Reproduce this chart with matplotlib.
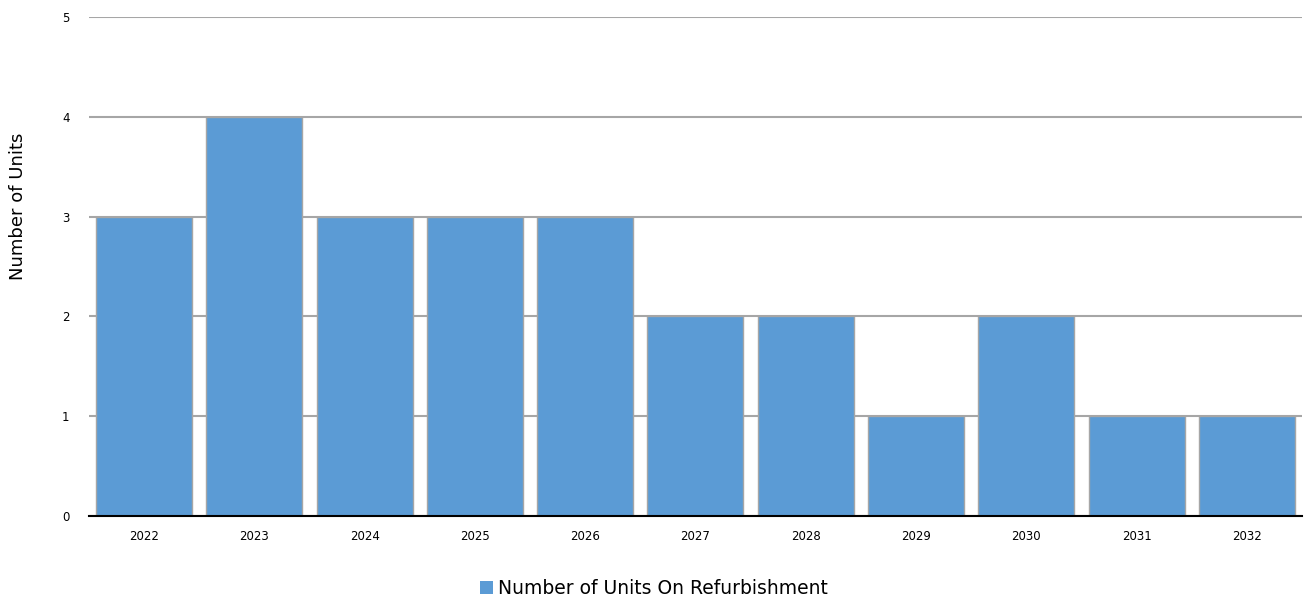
import matplotlib
matplotlib.use("Agg")
import matplotlib.pyplot as plt
from matplotlib.patches import Patch

years = ["2022", "2023", "2024", "2025", "2026", "2027", "2028", "2029", "2030", "2031", "2032"]
units = [3, 4, 3, 3, 3, 2, 2, 1, 2, 1, 1]
series_name = "Number of Units On Refurbishment"
y_ticks = [0, 1, 2, 3, 4, 5]

bar_color = "#5b9bd5"
grid_color = "#a6a6a6"

fig = plt.figure(figsize=(13.08, 5.99), dpi=100)
ax = fig.add_axes([0.068, 0.1386, 0.9274, 0.833])

x = list(range(len(years)))
ax.bar(x, units, width=0.87, color=bar_color, edgecolor=grid_color,
       linewidth=1.0, zorder=3)

ax.set_xlim(-0.5, len(years) - 0.5)
ax.set_ylim(0, 5)
ax.set_yticks(y_ticks)
ax.set_xticks(x)
ax.set_xticklabels(years)
ax.tick_params(axis="both", length=0, labelsize=8.5, colors="black")
ax.tick_params(axis="y", pad=14)
ax.tick_params(axis="x", pad=10)

ax.yaxis.grid(True, color=grid_color, linewidth=1.5, zorder=1)
ax.set_axisbelow(True)
for side in ["left", "right", "top"]:
    ax.spines[side].set_visible(False)
ax.spines["bottom"].set_color("black")
ax.spines["bottom"].set_linewidth(1.5)
ax.spines["bottom"].set_zorder(4)

fig.text(18 / 1308, 1 - 206 / 599, "Number of Units", rotation=90,
         ha="center", va="center", fontsize=13)

handle = Patch(facecolor=bar_color, edgecolor="none")
fig.legend([handle], [series_name], loc="center", bbox_to_anchor=(0.5, 0.018),
           frameon=False, fontsize=13.5, handlelength=0.7, handleheight=0.7,
           handletextpad=0.3)

fig.savefig("out.png", dpi=100)
